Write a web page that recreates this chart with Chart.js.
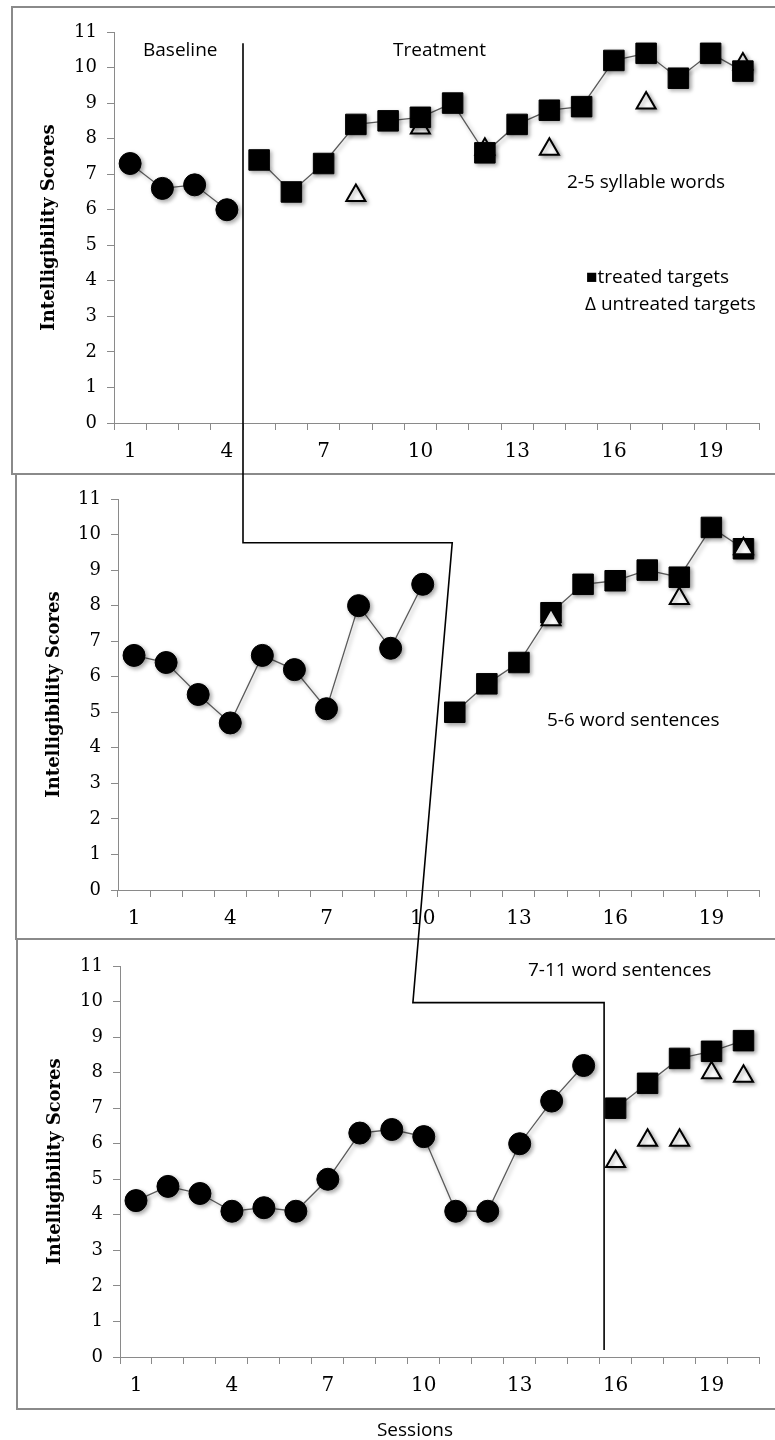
<!DOCTYPE html>
<html>
<head>
<meta charset="utf-8">
<script src="https://cdn.jsdelivr.net/npm/chart.js@4.4.1/dist/chart.umd.min.js"></script>
<style>
  html, body { margin: 0; padding: 0; background: #fff; width: 775px; height: 1440px; overflow: hidden; }
  .panel { position: absolute; border: 2px solid #8a8a8a; box-sizing: border-box; }
  canvas { position: absolute; left: 0; }
  #overlay { top: 0; z-index: 5; pointer-events: none; }
</style>
</head>
<body>
<div class="panel" style="left:11px; top:6px; width:800px; height:469px"></div>
<div class="panel" style="left:15px; top:473px; width:800px; height:467px"></div>
<div class="panel" style="left:16px; top:938px; width:800px; height:472px"></div>

<canvas id="words" width="775" height="474" style="top:0"></canvas>
<canvas id="short" width="775" height="465" style="top:474px"></canvas>
<canvas id="long" width="775" height="469" style="top:940px"></canvas>
<canvas id="overlay" width="775" height="1440"></canvas>

<script>
const sessions = ["1", "2", "3", "4", "5", "6", "7", "8", "9", "10",
  "11", "12", "13", "14", "15", "16", "17", "18", "19", "20"];
const shownTicks = ["1", "4", "7", "10", "13", "16", "19"];

// 2-5 syllable words
const wordsBaseline = [7.3, 6.6, 6.7, 6.0, null, null, null, null, null, null,
  null, null, null, null, null, null, null, null, null, null];
const wordsTreated = [null, null, null, null, 7.4, 6.5, 7.3, 8.4, 8.5, 8.6,
  9.0, 7.6, 8.4, 8.8, 8.9, 10.2, 10.4, 9.7, 10.4, 9.9];
const wordsUntreated = [null, null, null, null, null, null, null, 6.4, null, 8.3,
  null, 7.7, null, 7.7, null, null, 9.0, null, null, 10.1];

// 5-6 word sentences
const shortBaseline = [6.6, 6.4, 5.5, 4.7, 6.6, 6.2, 5.1, 8.0, 6.8, 8.6,
  null, null, null, null, null, null, null, null, null, null];
const shortTreated = [null, null, null, null, null, null, null, null, null, null,
  5.0, 5.8, 6.4, 7.8, 8.6, 8.7, 9.0, 8.8, 10.2, 9.6];
const shortUntreated = [null, null, null, null, null, null, null, null, null, null,
  null, null, null, 7.6, null, null, null, 8.2, null, 9.6];

// 7-11 word sentences
const longBaseline = [4.4, 4.8, 4.6, 4.1, 4.2, 4.1, 5.0, 6.3, 6.4, 6.2,
  4.1, 4.1, 6.0, 7.2, 8.2, null, null, null, null, null];
const longTreated = [null, null, null, null, null, null, null, null, null, null,
  null, null, null, null, null, 7.0, 7.7, 8.4, 8.6, 8.9];
const longUntreated = [null, null, null, null, null, null, null, null, null, null,
  null, null, null, null, null, 5.5, 6.1, 6.1, 8.0, 7.9];

const axisGray = "#8a8a8a";
const lineGray = "#5a5a5a";

const markerShadow = {
  id: "markerShadow",
  beforeDatasetDraw(chart) {
    const c = chart.ctx;
    c.save();
    c.shadowColor = "rgba(0,0,0,0.35)";
    c.shadowBlur = 4;
    c.shadowOffsetX = 2;
    c.shadowOffsetY = 2;
  },
  afterDatasetDraw(chart) {
    chart.ctx.restore();
  }
};

function makeChart(id, base, treated, untreated, lay) {
  return new Chart(document.getElementById(id), {
    type: "line",
    data: {
      labels: sessions,
      datasets: [
        {
          label: "baseline",
          data: base,
          borderColor: lineGray,
          borderWidth: 1.3,
          pointStyle: "circle",
          pointRadius: 11,
          pointBackgroundColor: "#000",
          pointBorderColor: "#000",
          pointBorderWidth: 1,
          order: 2
        },
        {
          label: "treated targets",
          data: treated,
          borderColor: lineGray,
          borderWidth: 1.3,
          pointStyle: "rect",
          pointRadius: 14.5,
          pointBackgroundColor: "#000",
          pointBorderColor: "#000",
          pointBorderWidth: 1,
          order: 2
        },
        {
          label: "untreated targets",
          data: untreated,
          showLine: false,
          pointStyle: "triangle",
          pointRadius: 11,
          pointBackgroundColor: "#fff",
          pointBorderColor: "#000",
          pointBorderWidth: 2,
          order: lay.triOnTop ? 1 : 3
        }
      ]
    },
    options: {
      responsive: false,
      animation: false,
      events: [],
      layout: { padding: lay.padding },
      plugins: { legend: { display: false }, tooltip: { enabled: false } },
      scales: {
        x: {
          offset: true,
          grid: { offset: true, drawOnChartArea: false, tickLength: 7, color: axisGray },
          border: { color: axisGray },
          ticks: {
            autoSkip: false,
            maxRotation: 0,
            padding: 10,
            color: "#000",
            font: { family: "DejaVu Serif", size: 20 },
            callback(v, i) {
              const l = sessions[i];
              return shownTicks.includes(l) ? l : "";
            }
          },
          afterFit(s) { s.height = 45; }
        },
        y: {
          min: 0,
          max: 11,
          ticks: { stepSize: 1, padding: 10, color: "#000", font: { family: "DejaVu Serif", size: 18 } },
          grid: { drawOnChartArea: false, tickLength: 7, color: axisGray },
          border: { color: axisGray },
          title: {
            display: true,
            text: "Intelligibility Scores",
            color: "#000",
            font: { family: "DejaVu Serif", size: 18, weight: "bold" },
            padding: { top: lay.titlePad, bottom: 0 }
          },
          afterFit(s) { s.width = lay.yWidth; }
        }
      }
    },
    plugins: [markerShadow]
  });
}

const top1 = 0, top2 = 474, top3 = 940;

const words = makeChart("words", wordsBaseline, wordsTreated, wordsUntreated, {
  padding: { top: 32, bottom: 6, left: 0, right: 16 }, yWidth: 114, titlePad: 39, triOnTop: false
});
const shortS = makeChart("short", shortBaseline, shortTreated, shortUntreated, {
  padding: { top: 25, bottom: 4, left: 0, right: 10 }, yWidth: 118, titlePad: 44, triOnTop: true
});
const longS = makeChart("long", longBaseline, longTreated, longUntreated, {
  padding: { top: 26, bottom: 7, left: 0, right: 9 }, yWidth: 120, titlePad: 45, triOnTop: true
});

// phase change line, in session / score units of each panel
function pt(chart, top, session, score) {
  return [chart.scales.x.getPixelForValue(session - 1), top + chart.scales.y.getPixelForValue(score)];
}

const g = document.getElementById("overlay").getContext("2d");
const a = pt(words, top1, 4.5, 10.68);
const b = [a[0], pt(shortS, top2, 4.5, 9.77)[1]];
const c = pt(shortS, top2, 10.92, 9.77);
const d = pt(longS, top3, 9.66, 9.97);
const e = pt(longS, top3, 15.64, 9.97);
const f = [e[0], pt(longS, top3, 15.64, 0.2)[1]];

g.strokeStyle = "#000";
g.lineWidth = 1.6;
g.beginPath();
g.moveTo(a[0], a[1]);
g.lineTo(b[0], b[1]);
g.lineTo(c[0], c[1]);
g.lineTo(d[0], d[1]);
g.lineTo(e[0], e[1]);
g.lineTo(f[0], f[1]);
g.stroke();

// annotations
g.fillStyle = "#000";
g.textBaseline = "alphabetic";
g.font = '19px "Open Sans"';
g.textAlign = "left";
g.fillText("Baseline", 143, 56);
g.fillText("Treatment", 393, 56);
g.fillText("2-5 syllable words", 567, 188);
g.fillText("\u25A0treated targets", 586, 283);
g.fillText("\u0394 untreated targets", 585, 310);
g.fillText("5-6 word sentences", 547, 726);
g.fillText("7-11 word sentences", 528, 976);
g.textAlign = "center";
g.fillText("Sessions", 415, 1436);
</script>
</body>
</html>
